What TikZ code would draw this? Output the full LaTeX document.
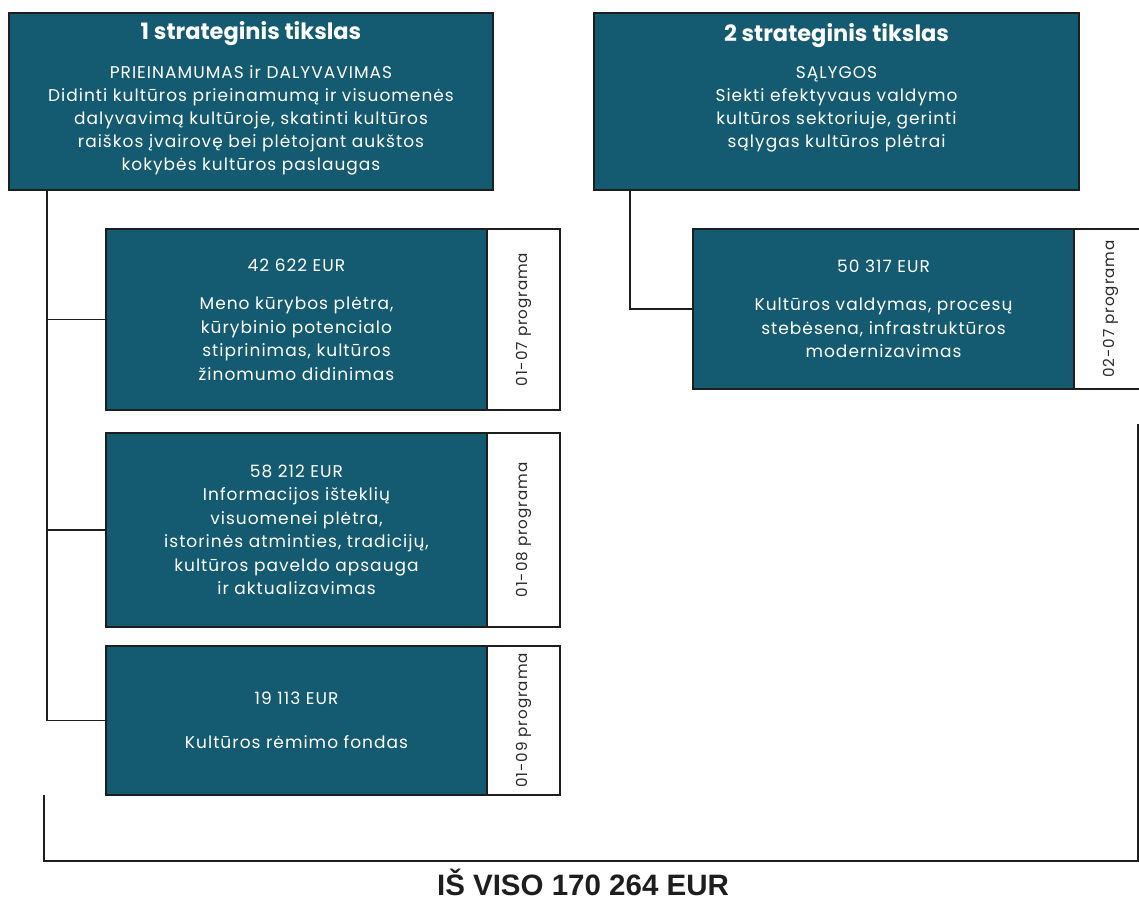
\documentclass[tikz,border=0pt]{standalone}
\usepackage{fontspec}
\setmainfont{Poppins}[LetterSpace=6]
\newfontfamily\headfont{Poppins}
\newfontfamily\sumfont{Liberation Sans}
\usetikzlibrary{positioning}

\definecolor{tealbox}{HTML}{145A70}
\definecolor{edgeline}{HTML}{1E1E1E}
\definecolor{tabtext}{HTML}{2A2A2A}

\tikzset{
  goalbox/.style={draw=edgeline, line width=1.6pt, fill=tealbox, anchor=north west,
    minimum width=484pt, minimum height=177pt, inner sep=0pt, outer sep=0pt},
  goaltitle/.style={text=white, inner sep=0pt, font=\headfont\bfseries\fontsize{22.5}{26}\selectfont},
  goaltext/.style={text=white, inner sep=0pt, align=center, font=\fontsize{17}{23}\selectfont},
  progbox/.style={draw=edgeline, line width=1.6pt, fill=tealbox, anchor=north west,
    minimum width=381pt, text=white, align=center, inner sep=0pt, outer sep=0pt,
    font=\fontsize{17}{23.5}\selectfont},
  tabbox/.style={draw=edgeline, line width=1.6pt, fill=white, minimum width=73pt,
    inner sep=0pt, outer sep=0pt},
  tablabel/.style={rotate=90, text=tabtext, inner sep=0pt, font=\fontsize{15.2}{18}\selectfont},
  link/.style={draw=edgeline, line width=1.6pt},
}

\begin{document}
\begin{tikzpicture}[x=1pt,y=1pt]
\useasboundingbox (0,0) rectangle (1139,-901);

%Goal boxes
\node[goalbox] (goal1) at (9,-13) {};
\node[goaltitle, below=8pt of goal1.north] (title1) {1 strateginis tikslas};
\node[goaltext, below=20pt of title1] (text1) {PRIEINAMUMAS ir DALYVAVIMAS\\Didinti kultūros prieinamumą ir visuomenės\\dalyvavimą kultūroje, skatinti kultūros\\raiškos įvairovę bei plėtojant aukštos\\kokybės kultūros paslaugas};

\node[goalbox, minimum width=485pt] (goal2) at (594,-13) {};
\node[goaltitle, below=10pt of goal2.north] (title2) {2 strateginis tikslas};
\node[goaltext, below=19pt of title2] (text2) {SĄLYGOS\\Siekti efektyvaus valdymo\\kultūros sektoriuje, gerinti\\sąlygas kultūros plėtrai};

%Programme boxes
\node[progbox, minimum height=181pt] (progA) at (106,-229) {42 622 EUR\\[15pt]Meno kūrybos plėtra,\\kūrybinio potencialo\\stiprinimas, kultūros\\žinomumo didinimas};
\node[tabbox, minimum height=181pt, right=0pt of progA] (tabA) {};
\node[tablabel] at (tabA.center) {01-07 programa};

\node[progbox, minimum height=194pt] (progB) at (106,-433) {58 212 EUR\\Informacijos išteklių\\visuomenei plėtra,\\istorinės atminties, tradicijų,\\kultūros paveldo apsauga\\ir aktualizavimas};
\node[tabbox, minimum height=194pt, right=0pt of progB] (tabB) {};
\node[tablabel] at (tabB.center) {01-08 programa};

\node[progbox, minimum height=149pt] (progC) at (106,-646) {19 113 EUR\\[20pt]Kultūros rėmimo fondas};
\node[tabbox, minimum height=149pt, right=0pt of progC] (tabC) {};
\node[tablabel] at (tabC.center) {01-09 programa};

\node[progbox, minimum height=160pt] (progD) at (693,-229) {50 317 EUR\\[15pt]Kultūros valdymas, procesų\\stebėsena, infrastruktūros\\modernizavimas};
\node[tabbox, minimum height=160pt, right=0pt of progD] (tabD) {};
\node[tablabel] at (tabD.center) {02-07 programa};

%Connectors
\coordinate (trunk1) at (47,-190);
\coordinate (trunk2) at (630,-190);
\draw[link] (trunk1) |- (progC.west);
\draw[link] (trunk1 |- progA.west) -- (progA.west);
\draw[link] (trunk1 |- progB.west) -- (progB.west);
\draw[link] (trunk2) |- (progD.west);

%Total bracket
\coordinate (sumtop) at (44,-795);
\coordinate (sumcorner) at (44,-861);
\coordinate (sumright) at (1138,-424);
\draw[link] (sumtop) -- (sumcorner) -| (sumright);
\node[font=\sumfont\bfseries\fontsize{29.5}{30}\selectfont, text=edgeline, inner sep=0pt] (total) at (583,-882) {IŠ VISO 170 264 EUR};

\end{tikzpicture}
\end{document}
